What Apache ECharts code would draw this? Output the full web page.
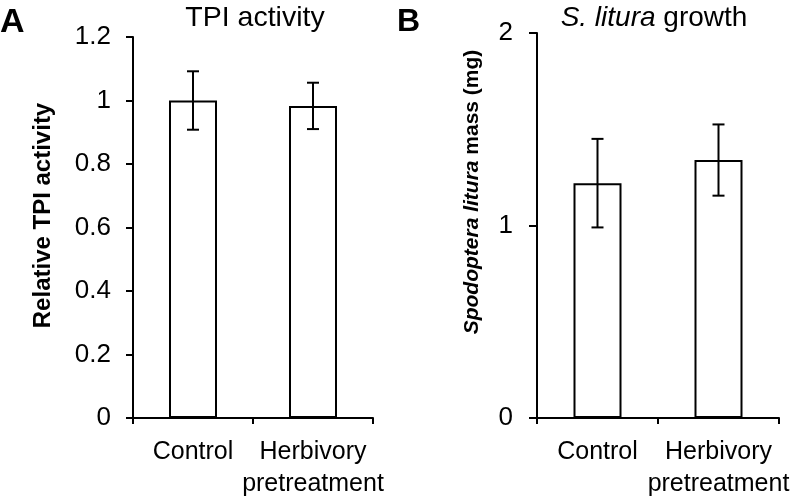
<!DOCTYPE html>
<html>
<head>
<meta charset="utf-8">
<script src="https://cdn.jsdelivr.net/npm/echarts@6/dist/echarts.min.js"></script>
<style>html,body{margin:0;padding:0;background:#fff}#c{width:793px;height:500px}</style>
</head>
<body>
<div id="c"></div>
<script>
// ---- data ----
const categories = ['Control', 'Herbivory\npretreatment'];
const tpiMean = [1.0, 0.983];
const tpiErr = [0.092, 0.073];
const massMean = [1.22, 1.34];
const massErr = [0.23, 0.185];
const tpiTicks = {min: 0, max: 1.2, interval: 0.2};
const massTicks = {min: 0, max: 2, interval: 1};
const massNameItalic = 'Spodoptera litura';
const massNamePlain = 'mass (mg)';

const FONT = '"Liberation Sans", Arial, sans-serif';
const BLACK = '#000';

function errItem(params, api) {
  const x = api.value(0), m = api.value(1), e = api.value(2);
  const hi = api.coord([x, m + e]);
  const lo = api.coord([x, m - e]);
  const cap = 6;
  const st = {stroke: BLACK, lineWidth: 2};
  return {type: 'group', children: [
    {type: 'line', shape: {x1: hi[0], y1: hi[1], x2: lo[0], y2: lo[1]}, style: st},
    {type: 'line', shape: {x1: hi[0] - cap, y1: hi[1], x2: hi[0] + cap, y2: hi[1]}, style: st},
    {type: 'line', shape: {x1: lo[0] - cap, y1: lo[1], x2: lo[0] + cap, y2: lo[1]}, style: st}
  ]};
}

// measure text to lay out the two-style rotated axis title of panel B
const NAME_SIZE = 21;
const mctx = document.createElement('canvas').getContext('2d');
function tw(t, font) { mctx.font = font; return mctx.measureText(t).width; }
const fItal = 'italic bold ' + NAME_SIZE + 'px ' + FONT;
const fBold = 'bold ' + NAME_SIZE + 'px ' + FONT;
const w1 = tw(massNameItalic, fItal), wsp = tw(' ', fBold), w2 = tw(massNamePlain, fBold);
const nameLen = w1 + wsp + w2;
const nameCx = 472, nameCy = 192;
const yStart = nameCy + nameLen / 2;

const axisLine = {show: true, lineStyle: {color: BLACK, width: 2}};
const xAxisCommon = {
  type: 'category', data: categories,
  axisLine: axisLine,
  axisTick: {show: true, length: 6, lineStyle: {color: BLACK, width: 2}},
  axisLabel: {color: BLACK, fontFamily: FONT, fontSize: 25, lineHeight: 32, margin: 18, interval: 0}
};

const chart = echarts.init(document.getElementById('c'));
chart.setOption({
  animation: false,
  backgroundColor: '#fff',
  title: [
    {text: 'A', left: 0, top: 6, padding: 0, textStyle: {fontFamily: FONT, fontSize: 34, fontWeight: 'bold', color: BLACK}},
    {text: 'B', left: 397, top: 6, padding: 0, textStyle: {fontFamily: FONT, fontSize: 32, fontWeight: 'bold', color: BLACK}},
    {text: 'TPI activity', left: 255, textAlign: 'center', top: 4, padding: 0,
     textStyle: {fontFamily: FONT, fontSize: 28.5, fontWeight: 'normal', color: BLACK}},
    {text: '{it|S. litura} growth', left: 654, textAlign: 'center', top: 4, padding: 0,
     textStyle: {fontFamily: FONT, fontSize: 28, fontWeight: 'normal', color: BLACK,
       rich: {it: {fontFamily: FONT, fontSize: 28, fontStyle: 'italic', color: BLACK}}}}
  ],
  graphic: [
    {type: 'text', x: nameCx, y: yStart, rotation: Math.PI / 2,
     style: {text: massNameItalic, align: 'left', verticalAlign: 'middle', fill: BLACK,
       fontFamily: FONT, fontSize: NAME_SIZE, fontWeight: 'bold', fontStyle: 'italic'}},
    {type: 'text', x: nameCx, y: yStart - w1 - wsp, rotation: Math.PI / 2,
     style: {text: massNamePlain, align: 'left', verticalAlign: 'middle', fill: BLACK,
       fontFamily: FONT, fontSize: NAME_SIZE, fontWeight: 'bold', fontStyle: 'normal'}}
  ],
  grid: [
    {left: 133, top: 37, right: 420, bottom: 78},
    {left: 537, top: 33, right: 14, bottom: 81}
  ],
  xAxis: [
    Object.assign({gridIndex: 0}, xAxisCommon),
    Object.assign({gridIndex: 1}, xAxisCommon)
  ],
  yAxis: [
    {gridIndex: 0, type: 'value', min: tpiTicks.min, max: tpiTicks.max, interval: tpiTicks.interval,
     axisLine: axisLine, splitLine: {show: false},
     axisTick: {show: true, length: 7, lineStyle: {color: BLACK, width: 2}},
     axisLabel: {color: BLACK, fontFamily: FONT, fontSize: 26, margin: 22},
     name: 'Relative TPI activity', nameLocation: 'middle', nameGap: 78,
     nameTextStyle: {color: BLACK, fontFamily: FONT, fontSize: 24, fontWeight: 'bold', padding: [0, 0, 0, 24]}},
    {gridIndex: 1, type: 'value', min: massTicks.min, max: massTicks.max, interval: massTicks.interval,
     axisLine: axisLine, splitLine: {show: false},
     axisTick: {show: true, length: 8, lineStyle: {color: BLACK, width: 2}},
     axisLabel: {color: BLACK, fontFamily: FONT, fontSize: 26, margin: 24}}
  ],
  series: [
    {type: 'bar', xAxisIndex: 0, yAxisIndex: 0, data: tpiMean, barWidth: 48,
     itemStyle: {color: '#fff', borderColor: BLACK, borderWidth: 2}},
    {type: 'custom', xAxisIndex: 0, yAxisIndex: 0, renderItem: errItem,
     data: tpiMean.map((m, i) => [i, m, tpiErr[i]]), z: 5},
    {type: 'bar', xAxisIndex: 1, yAxisIndex: 1, data: massMean, barWidth: 48,
     itemStyle: {color: '#fff', borderColor: BLACK, borderWidth: 2}},
    {type: 'custom', xAxisIndex: 1, yAxisIndex: 1, renderItem: errItem,
     data: massMean.map((m, i) => [i, m, massErr[i]]), z: 5}
  ]
});
</script>
</body>
</html>
